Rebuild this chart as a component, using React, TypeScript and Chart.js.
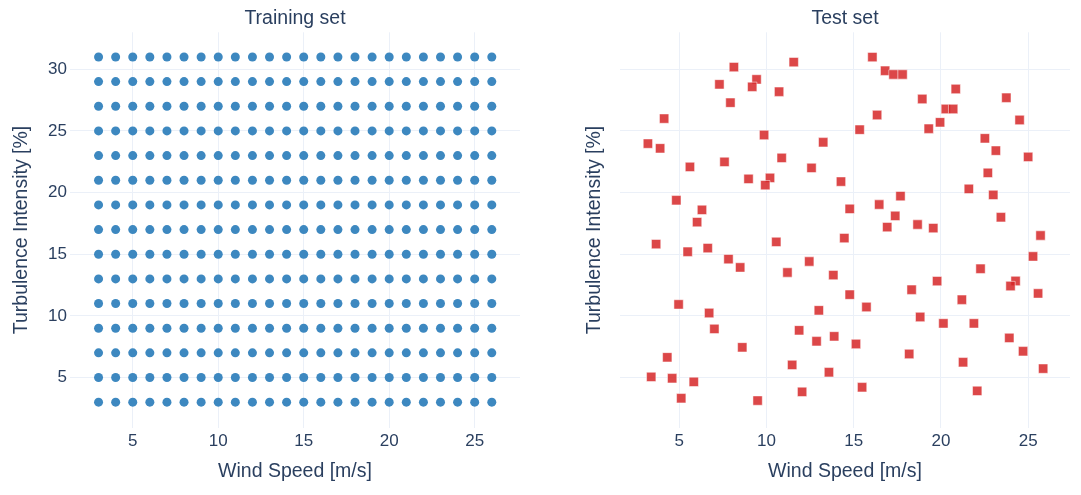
import { useEffect, useRef } from 'react';
import { Chart, registerables } from 'chart.js';

Chart.register(...registerables);

// training grid
const trainWindSpeed = [3, 4, 5, 6, 7, 8, 9, 10, 11, 12, 13, 14, 15, 16, 17, 18, 19, 20, 21, 22, 23, 24, 25, 26];
const trainTurbulence = [3, 5, 7, 9, 11, 13, 15, 17, 19, 21, 23, 25, 27, 29, 31];

// test samples
const testWindSpeed = [
  8.13, 11.56, 7.3, 9.43, 9.18, 10.72, 7.93, 4.13, 9.86, 3.2, 3.9, 13.25, 10.87, 7.59, 5.61, 12.58,
  8.97, 10.2, 9.93, 4.83, 6.3, 6.02, 16.07, 16.8, 17.28, 17.8, 20.85, 18.93, 23.75, 20.28, 20.7, 16.34,
  19.95, 24.51, 15.34, 19.3, 22.52, 23.15, 25.0, 14.27, 22.69, 21.6, 23.0, 17.68, 14.77, 16.46, 17.38,
  23.44, 16.92, 18.66, 19.56, 3.67, 5.48, 6.63, 10.56, 7.82, 8.49, 12.45, 11.2, 13.83, 4.96, 6.71, 7.01,
  13.0, 11.87, 12.87, 8.61, 4.31, 3.39, 4.59, 5.83, 11.47, 5.11, 9.49, 12.04, 14.46, 25.71, 25.28, 22.27,
  14.77, 15.73, 18.32, 19.78, 21.2, 24.28, 23.99, 25.57, 18.81, 20.14, 21.89, 13.88, 15.13, 23.92, 24.71,
  18.18, 21.27, 25.86, 13.58, 15.48, 22.08,
];
const testTurbulence = [
  30.18, 30.58, 28.78, 29.18, 28.58, 28.18, 27.29, 26.0, 24.67, 23.97, 23.59, 24.08, 22.81, 22.49, 22.08, 22.0,
  21.11, 21.19, 20.6, 19.38, 18.6, 17.6, 30.99, 29.88, 29.58, 29.58, 28.4, 27.59, 27.69, 26.78, 26.78, 26.29,
  25.7, 25.89, 25.1, 25.18, 24.4, 23.4, 22.89, 20.89, 21.6, 20.3, 19.81, 19.71, 18.68, 19.03, 18.11,
  18.0, 17.2, 17.41, 17.12, 15.82, 15.2, 15.5, 16.0, 14.6, 13.93, 14.41, 13.52, 13.31, 10.93, 10.23, 8.94,
  10.45, 8.83, 7.94, 7.45, 6.64, 5.05, 4.94, 4.65, 6.02, 3.32, 3.13, 3.84, 16.31, 16.52, 14.82, 13.82,
  11.72, 10.72, 12.12, 12.82, 11.31, 12.83, 12.42, 11.82, 9.91, 9.39, 9.39, 8.34, 7.72, 8.21, 7.13,
  6.91, 6.24, 5.72, 5.43, 4.21, 3.92,
];

const xTickValues = [5, 10, 15, 20, 25];
const yTickValues = [5, 10, 15, 20, 25, 30];

const TEXT = '#2a3f5f';
const GRID = '#ebf0f8';
const FONT = '"Liberation Sans", Arial, sans-serif';

// subplot title, centred over the plot area
const panelTitle = {
  id: 'panelTitle',
  afterDraw(chart: any, _args: any, opts: any) {
    const { ctx, chartArea } = chart;
    ctx.save();
    ctx.font = `19.5px ${FONT}`;
    ctx.fillStyle = TEXT;
    ctx.textAlign = 'center';
    ctx.textBaseline = 'middle';
    ctx.fillText(opts.text, (chartArea.left + chartArea.right) / 2, opts.y);
    ctx.restore();
  },
};

interface PanelProps {
  title: string;
  points: { x: number; y: number }[];
  left: number;
  width: number;
  yAxisWidth: number;
  rightPad: number;
  showYTicks: boolean;
  yTitlePad: number;
  xMin: number;
  xMax: number;
  pointStyle: 'circle' | 'rect';
  radius: number;
  fill: string;
  border: string;
  borderWidth: number;
}

const Panel = (p: PanelProps) => {
  const chartRef = useRef<HTMLCanvasElement | null>(null);

  useEffect(() => {
    if (!chartRef.current) return;
    const chart = new Chart(chartRef.current, {
      type: 'scatter',
      data: {
        datasets: [{
          data: p.points,
          pointStyle: p.pointStyle,
          pointRadius: p.radius,
          backgroundColor: p.fill,
          borderColor: p.border,
          borderWidth: p.borderWidth,
        }],
      },
      plugins: [panelTitle],
      options: {
        animation: false,
        responsive: true,
        maintainAspectRatio: false,
        layout: { padding: { left: 0, right: p.rightPad, top: 32.3, bottom: 0 } },
        plugins: {
          legend: { display: false },
          tooltip: { enabled: false },
          panelTitle: { text: p.title, y: 18.5 },
        } as any,
        scales: {
          x: {
            type: 'linear',
            min: p.xMin,
            max: p.xMax,
            afterBuildTicks: (s: any) => { s.ticks = xTickValues.map(value => ({ value })); },
            afterFit: (s: any) => { s.height = 67.3; },
            grid: { color: GRID, drawTicks: false },
            border: { display: false },
            ticks: { color: TEXT, font: { size: 17, family: FONT }, padding: 3 },
            title: {
              display: true, text: 'Wind Speed [m/s]', color: TEXT,
              font: { size: 19.5, family: FONT }, padding: { top: 0, bottom: 11.5 },
            },
          },
          y: {
            type: 'linear',
            min: 0.93,
            max: 33.0,
            afterBuildTicks: (s: any) => { s.ticks = yTickValues.map(value => ({ value })); },
            afterFit: (s: any) => { s.width = p.yAxisWidth; },
            grid: { color: GRID, drawTicks: false },
            border: { display: false },
            ticks: { display: p.showYTicks, color: TEXT, font: { size: 17, family: FONT }, padding: 3 },
            title: {
              display: true, text: 'Turbulence Intensity [%]', color: TEXT,
              font: { size: 19.5, family: FONT }, padding: { top: p.yTitlePad, bottom: 0 },
            },
          },
        },
      },
    });
    return () => chart.destroy();
  }, []);

  return (
    <div style={{ position: 'absolute', left: p.left, top: 0, width: p.width, height: 495 }}>
      <canvas ref={chartRef} />
    </div>
  );
};

export default function App() {
  const trainPoints = trainTurbulence.flatMap(y => trainWindSpeed.map(x => ({ x, y })));
  const testPoints = testWindSpeed.map((x, i) => ({ x, y: testTurbulence[i] }));

  return (
    <div style={{ position: 'fixed', left: 0, top: 0, width: 1081, height: 495, background: '#fff' }}>
      <Panel
        title="Training set" points={trainPoints} left={0} width={540}
        yAxisWidth={70} rightPad={20} showYTicks yTitlePad={10}
        xMin={1.33} xMax={27.65} pointStyle="circle" radius={4.5}
        fill="#3d88c0" border="#3d88c0" borderWidth={0}
      />
      <Panel
        title="Test set" points={testPoints} left={560} width={521}
        yAxisWidth={60} rightPad={11} showYTicks={false} yTitlePad={23}
        xMin={1.6} xMax={27.4} pointStyle="rect" radius={6.6}
        fill="rgba(214,39,40,0.85)" border="rgba(255,255,255,0.5)" borderWidth={1}
      />
    </div>
  );
}
